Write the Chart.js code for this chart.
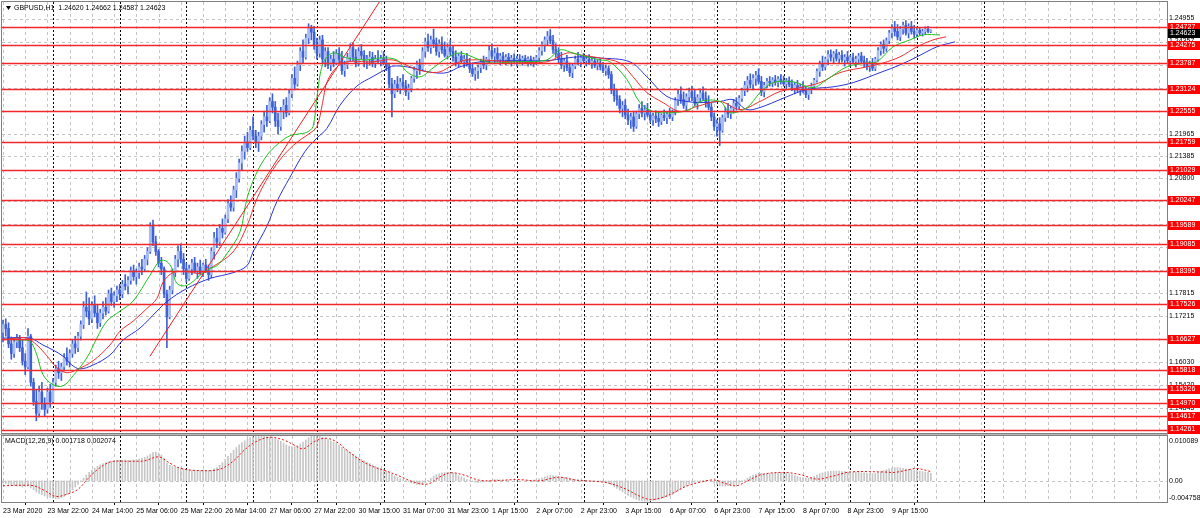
<!DOCTYPE html>
<html>
<head>
<meta charset="utf-8">
<title>GBPUSD,H1</title>
<script src="https://cdn.jsdelivr.net/npm/chart.js@4.4.1/dist/chart.umd.min.js"></script>
<style>
  html,body{margin:0;padding:0;background:#fff}
  #wrap{position:relative;width:1200px;height:518px;overflow:hidden;background:#fff}
  #wrap canvas{position:absolute;left:0}
  #c-main{top:0}
  #c-macd{top:434px}
</style>
</head>
<body>
<div id="wrap">
  <canvas id="c-main" width="1200" height="434"></canvas>
  <canvas id="c-macd" width="1200" height="84"></canvas>
</div>
<script>
// GBPUSD H1 — candles, Alligator, MACD(12,26,9)

// ── data ──
const symbolName = 'GBPUSD,H1';

// one row per hourly bar: open, high, low, close
const bars = [
[1.1680,1.1712,1.1655,1.1700],[1.1700,1.1715,1.1670,1.1690],[1.1690,1.1705,1.1640,1.1650],[1.1650,1.1668,1.1610,1.1625],
[1.1625,1.1660,1.1615,1.1655],[1.1655,1.1675,1.1640,1.1665],[1.1665,1.1672,1.1630,1.1640],[1.1640,1.1660,1.1595,1.1605],
[1.1605,1.1625,1.1570,1.1590],[1.1590,1.1690,1.1585,1.1670],[1.1670,1.1675,1.1540,1.1550],[1.1550,1.1560,1.1490,1.1500],
[1.1500,1.1530,1.1450,1.1470],[1.1470,1.1540,1.1460,1.1525],[1.1525,1.1550,1.1480,1.1495],[1.1495,1.1510,1.1462,1.1480],
[1.1480,1.1535,1.1470,1.1525],[1.1525,1.1545,1.1485,1.1500],[1.1500,1.1560,1.1495,1.1550],[1.1550,1.1595,1.1540,1.1585],
[1.1585,1.1605,1.1560,1.1575],[1.1575,1.1600,1.1555,1.1590],[1.1590,1.1625,1.1580,1.1615],[1.1615,1.1640,1.1595,1.1605],
[1.1605,1.1635,1.1590,1.1625],[1.1625,1.1660,1.1615,1.1650],[1.1650,1.1670,1.1625,1.1640],[1.1640,1.1680,1.1630,1.1670],
[1.1670,1.1710,1.1660,1.1700],[1.1700,1.1760,1.1690,1.1745],[1.1745,1.1785,1.1720,1.1735],[1.1735,1.1770,1.1700,1.1715],
[1.1715,1.1760,1.1705,1.1750],[1.1750,1.1775,1.1720,1.1730],[1.1730,1.1750,1.1690,1.1705],[1.1705,1.1740,1.1695,1.1730],
[1.1730,1.1760,1.1715,1.1745],[1.1745,1.1770,1.1725,1.1735],[1.1735,1.1790,1.1730,1.1780],[1.1780,1.1795,1.1750,1.1760],
[1.1760,1.1785,1.1745,1.1775],[1.1775,1.1800,1.1760,1.1790],[1.1790,1.1805,1.1765,1.1780],[1.1780,1.1815,1.1770,1.1805],
[1.1805,1.1830,1.1790,1.1800],[1.1800,1.1825,1.1780,1.1815],[1.1815,1.1850,1.1805,1.1840],[1.1840,1.1855,1.1815,1.1825],
[1.1825,1.1845,1.1805,1.1835],[1.1835,1.1860,1.1820,1.1850],[1.1850,1.1870,1.1830,1.1845],[1.1845,1.1880,1.1840,1.1870],
[1.1870,1.1900,1.1855,1.1890],[1.1890,1.1965,1.1885,1.1955],[1.1955,1.1972,1.1905,1.1915],[1.1915,1.1930,1.1880,1.1890],
[1.1890,1.1895,1.1850,1.1860],[1.1860,1.1875,1.1830,1.1845],[1.1845,1.1850,1.1770,1.1780],[1.1780,1.1790,1.1640,1.1720],
[1.1720,1.1800,1.1715,1.1790],[1.1790,1.1845,1.1780,1.1835],[1.1835,1.1880,1.1825,1.1870],[1.1870,1.1905,1.1850,1.1890],
[1.1890,1.1910,1.1860,1.1870],[1.1870,1.1885,1.1830,1.1845],[1.1845,1.1860,1.1810,1.1820],[1.1820,1.1855,1.1815,1.1845],
[1.1845,1.1870,1.1830,1.1860],[1.1860,1.1875,1.1835,1.1840],[1.1840,1.1860,1.1820,1.1850],[1.1850,1.1868,1.1830,1.1835],
[1.1835,1.1860,1.1825,1.1855],[1.1855,1.1870,1.1835,1.1840],[1.1840,1.1855,1.1815,1.1830],[1.1830,1.1900,1.1822,1.1890],
[1.1890,1.1940,1.1870,1.1925],[1.1925,1.1950,1.1900,1.1915],[1.1915,1.1960,1.1905,1.1950],[1.1950,1.1975,1.1925,1.1940],
[1.1940,1.1985,1.1935,1.1975],[1.1975,1.2025,1.1965,1.2015],[1.2015,1.2035,1.1995,1.2005],[1.2005,1.2060,1.1995,1.2050],
[1.2050,1.2095,1.2030,1.2080],[1.2080,1.2130,1.2070,1.2120],[1.2120,1.2165,1.2100,1.2150],[1.2150,1.2190,1.2130,1.2175],
[1.2175,1.2200,1.2150,1.2160],[1.2160,1.2215,1.2155,1.2205],[1.2205,1.2240,1.2180,1.2190],[1.2190,1.2205,1.2160,1.2175],
[1.2175,1.2200,1.2150,1.2190],[1.2190,1.2230,1.2180,1.2220],[1.2220,1.2255,1.2200,1.2240],[1.2240,1.2270,1.2215,1.2230],
[1.2230,1.2290,1.2225,1.2280],[1.2280,1.2300,1.2250,1.2265],[1.2265,1.2280,1.2215,1.2230],[1.2230,1.2250,1.2195,1.2215],
[1.2215,1.2265,1.2205,1.2255],[1.2255,1.2285,1.2235,1.2270],[1.2270,1.2290,1.2240,1.2250],[1.2250,1.2310,1.2245,1.2300],
[1.2300,1.2350,1.2290,1.2340],[1.2340,1.2370,1.2310,1.2325],[1.2325,1.2385,1.2320,1.2375],[1.2375,1.2420,1.2360,1.2410],
[1.2410,1.2440,1.2380,1.2395],[1.2395,1.2455,1.2390,1.2445],[1.2445,1.2482,1.2430,1.2470],[1.2470,1.2478,1.2440,1.2460],
[1.2460,1.2475,1.2415,1.2425],[1.2425,1.2445,1.2390,1.2405],[1.2405,1.2450,1.2395,1.2440],[1.2440,1.2452,1.2380,1.2390],
[1.2390,1.2420,1.2370,1.2410],[1.2410,1.2420,1.2365,1.2375],[1.2375,1.2400,1.2360,1.2390],[1.2390,1.2410,1.2370,1.2380],
[1.2380,1.2415,1.2375,1.2405],[1.2405,1.2420,1.2380,1.2390],[1.2390,1.2410,1.2350,1.2360],[1.2360,1.2385,1.2345,1.2375],
[1.2375,1.2405,1.2365,1.2395],[1.2395,1.2430,1.2385,1.2420],[1.2420,1.2432,1.2385,1.2395],[1.2395,1.2415,1.2370,1.2380],
[1.2380,1.2420,1.2372,1.2410],[1.2410,1.2428,1.2390,1.2400],[1.2400,1.2412,1.2370,1.2385],[1.2385,1.2400,1.2365,1.2390],
[1.2390,1.2410,1.2375,1.2395],[1.2395,1.2408,1.2370,1.2380],[1.2380,1.2400,1.2368,1.2390],[1.2390,1.2412,1.2378,1.2385],
[1.2385,1.2400,1.2372,1.2392],[1.2392,1.2410,1.2375,1.2380],[1.2380,1.2398,1.2360,1.2370],[1.2370,1.2380,1.2315,1.2325],
[1.2325,1.2340,1.2240,1.2300],[1.2300,1.2335,1.2290,1.2325],[1.2325,1.2345,1.2305,1.2315],[1.2315,1.2340,1.2300,1.2330],
[1.2330,1.2350,1.2310,1.2320],[1.2320,1.2335,1.2295,1.2305],[1.2305,1.2325,1.2285,1.2315],[1.2315,1.2345,1.2305,1.2340],
[1.2340,1.2370,1.2330,1.2360],[1.2360,1.2385,1.2340,1.2375],[1.2375,1.2390,1.2350,1.2365],[1.2365,1.2420,1.2360,1.2410],
[1.2410,1.2445,1.2395,1.2435],[1.2435,1.2455,1.2410,1.2420],[1.2420,1.2450,1.2405,1.2440],[1.2440,1.2468,1.2420,1.2430],
[1.2430,1.2445,1.2400,1.2410],[1.2410,1.2440,1.2395,1.2430],[1.2430,1.2448,1.2405,1.2415],[1.2415,1.2435,1.2395,1.2400],
[1.2400,1.2430,1.2390,1.2420],[1.2420,1.2440,1.2400,1.2410],[1.2410,1.2425,1.2385,1.2395],[1.2395,1.2412,1.2372,1.2380],
[1.2380,1.2405,1.2370,1.2398],[1.2398,1.2410,1.2378,1.2385],[1.2385,1.2400,1.2368,1.2390],[1.2390,1.2405,1.2372,1.2378],
[1.2378,1.2392,1.2355,1.2365],[1.2365,1.2380,1.2345,1.2352],[1.2352,1.2368,1.2335,1.2360],[1.2360,1.2375,1.2340,1.2368],
[1.2368,1.2390,1.2355,1.2382],[1.2382,1.2398,1.2365,1.2375],[1.2375,1.2395,1.2362,1.2390],[1.2390,1.2425,1.2380,1.2412],
[1.2412,1.2430,1.2390,1.2398],[1.2398,1.2418,1.2378,1.2405],[1.2405,1.2420,1.2382,1.2390],[1.2390,1.2405,1.2375,1.2398],
[1.2398,1.2408,1.2380,1.2388],[1.2388,1.2402,1.2375,1.2395],[1.2395,1.2405,1.2380,1.2385],[1.2385,1.2400,1.2372,1.2392],
[1.2392,1.2404,1.2378,1.2384],[1.2384,1.2398,1.2372,1.2390],[1.2390,1.2402,1.2378,1.2385],[1.2385,1.2398,1.2374,1.2392],
[1.2392,1.2400,1.2378,1.2384],[1.2384,1.2396,1.2372,1.2390],[1.2390,1.2398,1.2375,1.2382],[1.2382,1.2395,1.2370,1.2388],
[1.2388,1.2400,1.2376,1.2394],[1.2394,1.2420,1.2385,1.2412],[1.2412,1.2435,1.2400,1.2428],[1.2428,1.2448,1.2410,1.2440],
[1.2440,1.2462,1.2425,1.2450],[1.2450,1.2467,1.2430,1.2438],[1.2438,1.2452,1.2405,1.2415],[1.2415,1.2430,1.2395,1.2405],
[1.2405,1.2420,1.2380,1.2390],[1.2390,1.2408,1.2365,1.2375],[1.2375,1.2392,1.2358,1.2385],[1.2385,1.2400,1.2360,1.2368],
[1.2368,1.2380,1.2345,1.2355],[1.2355,1.2378,1.2342,1.2372],[1.2372,1.2398,1.2365,1.2390],[1.2390,1.2408,1.2375,1.2382],
[1.2382,1.2400,1.2370,1.2394],[1.2394,1.2405,1.2378,1.2386],[1.2386,1.2398,1.2372,1.2390],[1.2390,1.2402,1.2376,1.2380],
[1.2380,1.2392,1.2366,1.2385],[1.2385,1.2394,1.2368,1.2374],[1.2374,1.2388,1.2362,1.2380],[1.2380,1.2390,1.2362,1.2370],
[1.2370,1.2382,1.2355,1.2360],[1.2360,1.2375,1.2348,1.2365],[1.2365,1.2372,1.2340,1.2350],[1.2350,1.2358,1.2300,1.2310],
[1.2310,1.2325,1.2280,1.2295],[1.2295,1.2310,1.2270,1.2285],[1.2285,1.2295,1.2250,1.2262],[1.2262,1.2280,1.2240,1.2270],
[1.2270,1.2285,1.2235,1.2245],[1.2245,1.2260,1.2220,1.2232],[1.2232,1.2250,1.2210,1.2240],[1.2240,1.2255,1.2202,1.2215],
[1.2215,1.2255,1.2210,1.2248],[1.2248,1.2272,1.2235,1.2262],[1.2262,1.2280,1.2240,1.2250],[1.2250,1.2270,1.2232,1.2258],
[1.2258,1.2275,1.2240,1.2245],[1.2245,1.2258,1.2225,1.2232],[1.2232,1.2250,1.2218,1.2242],[1.2242,1.2256,1.2225,1.2236],
[1.2236,1.2250,1.2215,1.2228],[1.2228,1.2248,1.2220,1.2244],[1.2244,1.2258,1.2230,1.2238],[1.2238,1.2252,1.2222,1.2246],
[1.2246,1.2262,1.2235,1.2240],[1.2240,1.2258,1.2230,1.2252],[1.2252,1.2290,1.2245,1.2282],[1.2282,1.2310,1.2270,1.2298],
[1.2298,1.2318,1.2275,1.2285],[1.2285,1.2305,1.2262,1.2270],[1.2270,1.2300,1.2258,1.2292],[1.2292,1.2315,1.2280,1.2305],
[1.2305,1.2320,1.2282,1.2290],[1.2290,1.2310,1.2268,1.2275],[1.2275,1.2298,1.2260,1.2290],[1.2290,1.2312,1.2278,1.2302],
[1.2302,1.2318,1.2282,1.2288],[1.2288,1.2305,1.2265,1.2278],[1.2278,1.2295,1.2258,1.2265],[1.2265,1.2275,1.2230,1.2240],
[1.2240,1.2250,1.2205,1.2215],[1.2215,1.2232,1.2190,1.2222],[1.2222,1.2238,1.2165,1.2205],[1.2205,1.2245,1.2200,1.2238],
[1.2238,1.2265,1.2228,1.2255],[1.2255,1.2275,1.2238,1.2248],[1.2248,1.2268,1.2235,1.2262],[1.2262,1.2285,1.2250,1.2275],
[1.2275,1.2290,1.2258,1.2268],[1.2268,1.2295,1.2260,1.2288],[1.2288,1.2315,1.2280,1.2308],[1.2308,1.2332,1.2295,1.2322],
[1.2322,1.2345,1.2305,1.2335],[1.2335,1.2352,1.2315,1.2325],[1.2325,1.2350,1.2310,1.2340],[1.2340,1.2358,1.2322,1.2348],
[1.2348,1.2365,1.2325,1.2332],[1.2332,1.2345,1.2295,1.2305],[1.2305,1.2330,1.2292,1.2322],[1.2322,1.2340,1.2315,1.2332],
[1.2332,1.2345,1.2320,1.2328],[1.2328,1.2342,1.2318,1.2336],[1.2336,1.2348,1.2322,1.2330],[1.2330,1.2345,1.2318,1.2338],
[1.2338,1.2350,1.2325,1.2332],[1.2332,1.2346,1.2320,1.2326],[1.2326,1.2340,1.2312,1.2334],[1.2334,1.2344,1.2318,1.2324],
[1.2324,1.2336,1.2308,1.2315],[1.2315,1.2330,1.2300,1.2322],[1.2322,1.2335,1.2305,1.2310],[1.2310,1.2325,1.2296,1.2318],
[1.2318,1.2332,1.2302,1.2308],[1.2308,1.2320,1.2290,1.2298],[1.2298,1.2315,1.2285,1.2310],[1.2310,1.2328,1.2300,1.2320],
[1.2320,1.2340,1.2312,1.2335],[1.2335,1.2365,1.2330,1.2358],[1.2358,1.2385,1.2345,1.2378],[1.2378,1.2398,1.2360,1.2370],
[1.2370,1.2395,1.2362,1.2390],[1.2390,1.2412,1.2375,1.2402],[1.2402,1.2414,1.2385,1.2395],[1.2395,1.2410,1.2380,1.2404],
[1.2404,1.2415,1.2385,1.2392],[1.2392,1.2408,1.2378,1.2400],[1.2400,1.2412,1.2382,1.2388],[1.2388,1.2402,1.2372,1.2395],
[1.2395,1.2410,1.2380,1.2386],[1.2386,1.2400,1.2372,1.2394],[1.2394,1.2406,1.2380,1.2384],[1.2384,1.2398,1.2370,1.2390],
[1.2390,1.2405,1.2378,1.2398],[1.2398,1.2408,1.2380,1.2385],[1.2385,1.2398,1.2370,1.2378],[1.2378,1.2392,1.2362,1.2370],
[1.2370,1.2385,1.2358,1.2380],[1.2380,1.2392,1.2360,1.2366],[1.2366,1.2395,1.2360,1.2390],[1.2390,1.2420,1.2385,1.2412],
[1.2412,1.2435,1.2400,1.2428],[1.2428,1.2440,1.2405,1.2418],[1.2418,1.2445,1.2410,1.2438],[1.2438,1.2465,1.2430,1.2458],
[1.2458,1.2480,1.2445,1.2470],[1.2470,1.2488,1.2450,1.2462],[1.2462,1.2480,1.2440,1.2448],[1.2448,1.2475,1.2438,1.2468],
[1.2468,1.2486,1.2455,1.2478],[1.2478,1.2490,1.2452,1.2458],[1.2458,1.2482,1.2445,1.2475],[1.2475,1.2488,1.2455,1.2462],
[1.2462,1.2478,1.2445,1.2455],[1.2455,1.2470,1.2448,1.2465],[1.2465,1.2472,1.2452,1.2458],[1.2458,1.2468,1.2450,1.2462],
[1.2462,1.2474,1.2455,1.2468],[1.2468,1.2475,1.2458,1.2462],[1.24620,1.24662,1.24587,1.24623]
];

// Alligator lines as [bar, price]
const jawPts = [
[0,1.1665],[9.7,1.1665],[14.4,1.1647],[18,1.1634],[21.6,1.1618],[24.8,1.1595],[27.7,1.1585],[32.4,1.1595],[38.5,1.1621],
[43.2,1.1660],[49.3,1.1691],[55.4,1.1735],[59,1.1760],[66.2,1.1794],[74.5,1.1820],[82.8,1.1835],[87.8,1.1853],[90,1.1889],
[95,1.1956],[98.6,1.2020],[103.3,1.2083],[108.7,1.2150],[113,1.2185],[116.6,1.2210],[121.3,1.2270],[127.4,1.2320],
[133.2,1.2345],[138.2,1.2365],[140.4,1.2372],[145.4,1.2370],[150.1,1.2362],[154.8,1.2355],[159.8,1.2355],[164.5,1.2370],
[171.7,1.2383],[183.6,1.2386],[195.8,1.2386],[203,1.2393],[207.7,1.2396],[214.9,1.2393],[225.7,1.2383],[231.8,1.2344],
[239,1.2293],[246.2,1.2280],[250.9,1.2277],[258.1,1.2280],[262.8,1.2285],[267.8,1.2259],[273.6,1.2267],[279.7,1.2285],
[289.4,1.2311],[298.8,1.2318],[306,1.2329],[315.7,1.2355],[322.9,1.2375],[329,1.2396],[336.2,1.2422],[342.7,1.2435]
];
const teethPts = [
[0,1.1660],[5,1.1665],[8.6,1.1665],[12.2,1.1647],[15.8,1.1619],[19.4,1.1588],[23,1.1575],[26.6,1.1583],[32.4,1.1606],
[38.5,1.1647],[42.1,1.1683],[46.8,1.1709],[51.8,1.1742],[55.4,1.1768],[57.6,1.1810],[61.2,1.1835],[66,1.1838],[70.9,1.1833],
[74.5,1.1846],[82.8,1.1889],[87.8,1.1956],[91.4,1.2027],[96,1.2090],[101,1.2140],[106,1.2175],[110,1.2195],[113,1.2215],
[115,1.2275],[117,1.2337],[122.4,1.2380],[133.2,1.2383],[140.4,1.2388],[147.6,1.2367],[152.6,1.2357],[157.3,1.2357],
[162,1.2375],[167,1.2388],[183.6,1.2383],[195.8,1.2383],[203,1.2406],[207.7,1.2401],[214.9,1.2393],[222.1,1.2380],
[226.8,1.2344],[231.8,1.2303],[237.6,1.2277],[243.7,1.2254],[249.8,1.2267],[258.1,1.2280],[265.3,1.2259],[272.5,1.2280],
[279.7,1.2306],[286.9,1.2316],[294.1,1.2329],[301.3,1.2355],[311,1.2370],[316.8,1.2380],[322.9,1.2396],[329,1.2422],
[334.8,1.2440],[339.5,1.2448]
];
const lipsPts = [
[0,1.1662],[6.1,1.1660],[9.7,1.1657],[12.2,1.1621],[14.4,1.1570],[18,1.1544],[21.6,1.1541],[25.2,1.1567],[30.2,1.1614],
[33.8,1.1665],[37.4,1.1709],[42.1,1.1735],[46.8,1.1761],[52.9,1.1828],[56.5,1.1866],[59,1.1864],[60.8,1.1846],[62.6,1.1807],
[66.2,1.1802],[70.9,1.1828],[74.5,1.1846],[77,1.1853],[80.6,1.1884],[85.3,1.1941],[87.8,1.2027],[91,1.2090],[95,1.2140],
[99,1.2170],[103,1.2190],[106,1.2195],[109.4,1.2200],[111.6,1.2215],[113,1.2290],[115.2,1.2380],[118.8,1.2406],
[123.8,1.2393],[131,1.2388],[135.7,1.2393],[141.8,1.2388],[145.4,1.2357],[150.1,1.2344],[154.8,1.2367],[159.8,1.2393],
[164.5,1.2406],[171.7,1.2388],[176.4,1.2380],[183.6,1.2383],[195.8,1.2388],[200.5,1.2414],[205.2,1.2406],[210.2,1.2396],
[214.9,1.2388],[218.5,1.2383],[224.6,1.2337],[229.3,1.2277],[234,1.2254],[241.2,1.2251],[247.3,1.2259],[250.9,1.2280],
[258.1,1.2280],[261.7,1.2251],[267.8,1.2264],[272.5,1.2303],[277.2,1.2329],[284.4,1.2331],[291.6,1.2316],[296.6,1.2337],
[303.8,1.2370],[311,1.2380],[314.6,1.2383],[320.4,1.2422],[326.5,1.2440],[331.2,1.2453],[337.3,1.2453]
];

// hand-drawn trend line, [bar, price] at both ends
const trendPts = [[52.9,1.1618],[135.7,1.2541]];

// horizontal levels drawn on the chart
const levels = [1.24727,1.24275,1.23787,1.23124,1.22555,1.21759,1.21029,1.20247,1.19589,1.19085,
                1.18395,1.17526,1.16627,1.15818,1.15326,1.14970,1.14617,1.14261];

// price axis ticks
const priceTicks = [1.24955,1.24357,1.23759,1.23161,1.22563,1.21965,1.21385,1.20800,1.20203,1.19606,
                    1.19009,1.18412,1.17815,1.17215,1.16623,1.16030,1.15420,1.14845];

// MACD main (histogram), one value per bar
const macdHist = [
-0.0005,-0.0006,-0.0008,-0.0010,-0.0011,-0.0012,-0.0012,-0.0014,-0.0013,-0.0012,
-0.0016,-0.0020,-0.0025,-0.0028,-0.0031,-0.0034,-0.0036,-0.0038,-0.0039,-0.0040,
-0.0040,-0.0038,-0.0035,-0.0031,-0.0026,-0.0020,-0.0014,-0.0008,-0.0001,0.0006,
0.0013,0.0019,0.0024,0.0029,0.0033,0.0036,0.0039,0.0041,0.0043,0.0044,
0.0045,0.0046,0.0046,0.0047,0.0047,0.0046,0.0046,0.0047,0.0048,0.0049,
0.0051,0.0053,0.0056,0.0060,0.0064,0.0065,0.0063,0.0058,0.0050,0.0040,
0.0035,0.0032,0.0031,0.0030,0.0029,0.0027,0.0025,0.0024,0.0024,0.0024,
0.0023,0.0023,0.0024,0.0024,0.0023,0.0024,0.0027,0.0030,0.0035,0.0041,
0.0048,0.0055,0.0062,0.0069,0.0075,0.0081,0.0086,0.0090,0.0094,0.0097,
0.0099,0.0100,0.0101,0.0101,0.0100,0.0099,0.0098,0.0097,0.0095,0.0092,
0.0089,0.0085,0.0081,0.0078,0.0077,0.0077,0.0079,0.0083,0.0087,0.0092,
0.0097,0.0100,0.0101,0.0101,0.0100,0.0098,0.0096,0.0093,0.0090,0.0087,
0.0084,0.0080,0.0076,0.0072,0.0068,0.0064,0.0060,0.0056,0.0052,0.0048,
0.0045,0.0042,0.0039,0.0036,0.0033,0.0030,0.0028,0.0026,0.0023,0.0020,
0.0015,0.0011,0.0008,0.0005,0.0003,0.0001,-0.0002,-0.0004,-0.0006,-0.0008,
-0.0009,-0.0008,-0.0004,0.0001,0.0006,0.0011,0.0014,0.0016,0.0018,0.0019,
0.0019,0.0018,0.0017,0.0015,0.0012,0.0009,0.0006,0.0003,0.0001,-0.0001,
-0.0003,-0.0004,-0.0003,-0.0002,-0.0001,0.0001,0.0002,0.0003,0.0003,0.0002,
0.0002,0.0001,0.0001,0.0000,0.0000,-0.0001,-0.0001,0.0000,0.0000,0.0001,
0.0001,0.0002,0.0003,0.0005,0.0007,0.0009,0.0011,0.0012,0.0012,0.0011,
0.0010,0.0009,0.0008,0.0007,0.0005,0.0004,0.0003,0.0003,0.0002,0.0001,
0.0001,0.0000,0.0000,-0.0001,-0.0001,-0.0002,-0.0003,-0.0004,-0.0006,-0.0009,
-0.0013,-0.0017,-0.0021,-0.0025,-0.0029,-0.0033,-0.0036,-0.0039,-0.0042,-0.0044,
-0.0045,-0.0046,-0.0046,-0.0045,-0.0044,-0.0043,-0.0042,-0.0040,-0.0038,-0.0036,
-0.0034,-0.0031,-0.0027,-0.0023,-0.0019,-0.0015,-0.0012,-0.0008,-0.0005,-0.0003,
-0.0001,0.0000,0.0001,0.0001,0.0000,-0.0002,-0.0005,-0.0008,-0.0011,-0.0012,
-0.0012,-0.0011,-0.0010,-0.0009,-0.0007,-0.0005,-0.0002,0.0002,0.0006,0.0010,
0.0013,0.0015,0.0017,0.0017,0.0016,0.0016,0.0016,0.0017,0.0017,0.0018,
0.0018,0.0017,0.0017,0.0016,0.0014,0.0012,0.0010,0.0008,0.0007,0.0006,
0.0006,0.0008,0.0010,0.0013,0.0016,0.0018,0.0020,0.0021,0.0022,0.0022,
0.0022,0.0022,0.0021,0.0021,0.0020,0.0020,0.0020,0.0019,0.0019,0.0018,
0.0018,0.0017,0.0016,0.0016,0.0017,0.0019,0.0021,0.0023,0.0025,0.0027,
0.0029,0.0030,0.0030,0.0029,0.0028,0.0027,0.0026,0.0025,0.0024,0.0023,
0.0022,0.0021,0.0020,0.0019,0.001718
];

// MACD signal line, [bar, value]
const signalPts = [
[0,-0.0011],[6,-0.0010],[11,-0.0011],[15,-0.0022],[19,-0.0035],[23,-0.0030],[27,-0.0019],[31,0.0008],[35,0.0030],
[39,0.0043],[46,0.0044],[51,0.0045],[56,0.0054],[60,0.0040],[64,0.0028],[71,0.0023],[78,0.0026],[83,0.0045],[87,0.0070],
[91,0.0088],[96,0.0098],[101,0.0092],[105,0.0080],[108,0.0072],[112,0.0088],[116,0.0096],[120,0.0088],[124,0.0068],
[129,0.0045],[134,0.0030],[138,0.0022],[143,0.0010],[148,-0.0003],[153,-0.0007],[157,0.0008],[161,0.0018],[166,0.0013],
[171,0.0002],[176,0.0000],[185,0.0003],[193,0.0000],[200,0.0008],[207,0.0001],[213,-0.0001],[218,-0.0005],[224,-0.0018],
[229,-0.0034],[233,-0.0042],[237,-0.0038],[241,-0.0028],[246,-0.0012],[251,-0.0003],[256,0.0002],[260,-0.0006],
[264,-0.0011],[268,0.0000],[273,0.0014],[281,0.0019],[287,0.0014],[293,0.0004],[299,0.0011],[305,0.0020],[317,0.0020],
[321,0.0019],[326,0.0025],[329,0.0028],[334,0.002074]
];
const macdTicks = [0.010089, 0, -0.004758];

// time axis: bar index of each label and its text
const timeTickBars = [0,16,32,48,64,80,96,112,128,144,160,176,192,208,224,240,256,272,288,304,320];
const timeLabels = ['23 Mar 2020','23 Mar 22:00','24 Mar 14:00','25 Mar 06:00','25 Mar 22:00','26 Mar 14:00',
  '27 Mar 06:00','27 Mar 22:00','30 Mar 15:00','31 Mar 07:00','31 Mar 23:00','1 Apr 15:00','2 Apr 07:00',
  '2 Apr 23:00','3 Apr 15:00','6 Apr 07:00','6 Apr 23:00','7 Apr 15:00','8 Apr 07:00','8 Apr 23:00','9 Apr 15:00'];
// first bar of each day (period separators)
const daySeps = [18,42,66,90,113,137,161,185,209,233,257,281,305,329,353];

// ── view ──
const X_MIN = -0.36, X_MAX = 419.01;
const P_MIN = 1.14184, P_MAX = 1.25385;
const M_MIN = -0.004758, M_MAX = 0.010089;
const GRID_STEP = 8;
const FONT = '7px "Liberation Sans", Arial, sans-serif';
const C_WICK = '#3f61d6', C_BULL = '#a9bcf0', C_BEAR = '#3f61d6';

Chart.defaults.font.family = '"Liberation Sans", Arial, sans-serif';
Chart.defaults.font.size = 7;
Chart.defaults.color = '#000';

const pairs = pts => pts.map(p => ({x: p[0], y: p[1]}));

function vline(ctx, x, y0, y1){ ctx.beginPath(); ctx.moveTo(x, y0); ctx.lineTo(x, y1); ctx.stroke(); }
function hline(ctx, y, x0, x1){ ctx.beginPath(); ctx.moveTo(x0, y); ctx.lineTo(x1, y); ctx.stroke(); }

function drawTimeGrid(ctx, a, x){
  ctx.lineWidth = 1;
  ctx.strokeStyle = '#c4c4c4'; ctx.setLineDash([3,3]);
  for(let i = 0; i <= X_MAX; i += GRID_STEP){
    if(daySeps.includes(i)) continue;
    vline(ctx, Math.round(x.getPixelForValue(i)) + 0.5, a.top, a.bottom);
  }
  ctx.strokeStyle = '#000'; ctx.setLineDash([2,2]);
  daySeps.forEach(i => vline(ctx, Math.round(x.getPixelForValue(i)) + 0.5, a.top, a.bottom));
  ctx.setLineDash([]);
}

const mainDecor = {
  id: 'mainDecor',
  beforeDatasetsDraw(chart){
    const {ctx, chartArea: a, scales: {x, y}} = chart;
    ctx.save();
    ctx.lineWidth = 1;
    ctx.strokeStyle = '#c4c4c4'; ctx.setLineDash([3,3]);
    priceTicks.forEach(v => hline(ctx, Math.round(y.getPixelForValue(v)) + 0.5, a.left, a.right));
    drawTimeGrid(ctx, a, x);
    ctx.restore();
  },
  afterDatasetsDraw(chart){
    const {ctx, chartArea: a, scales: {y}} = chart;
    ctx.save();
    ctx.strokeStyle = '#f02828'; ctx.lineWidth = 1.5;
    levels.forEach(v => hline(ctx, Math.round(y.getPixelForValue(v)) + 0.5, a.left, a.right));
    ctx.restore();
  },
  afterDraw(chart){
    const {ctx, chartArea: a, scales: {y}} = chart;
    ctx.save();
    ctx.font = FONT; ctx.textBaseline = 'middle';
    // level tags
    levels.forEach(v => {
      const py = Math.min(Math.round(y.getPixelForValue(v)), a.bottom - 4);
      ctx.fillStyle = '#ff0000';
      ctx.fillRect(a.right + 1, py - 4, 33, 9);
      ctx.fillStyle = '#fff';
      ctx.fillText(v.toFixed(5), a.right + 3, py + 0.5);
    });
    // current price tag
    const last = bars[bars.length - 1];
    const cy = Math.round(y.getPixelForValue(last[3])) + 2;
    ctx.fillStyle = '#000';
    ctx.fillRect(a.right + 1, cy - 4, 33, 9);
    ctx.fillStyle = '#fff';
    ctx.fillText(last[3].toFixed(5), a.right + 3, cy + 0.5);
    // frame
    ctx.strokeStyle = '#808080'; ctx.lineWidth = 1;
    ctx.strokeRect(a.left - 0.5, a.top - 0.5, a.right - a.left + 1, a.bottom - a.top + 1);
    // header
    ctx.fillStyle = '#000';
    ctx.beginPath(); ctx.moveTo(6, 6); ctx.lineTo(11, 6); ctx.lineTo(8.5, 10); ctx.closePath(); ctx.fill();
    ctx.fillText(symbolName + '  ' + last.map(v => v.toFixed(5)).join(' '), 14, 8.5);
    ctx.restore();
  }
};

const macdDecor = {
  id: 'macdDecor',
  beforeDatasetsDraw(chart){
    const {ctx, chartArea: a, scales: {x, y}} = chart;
    ctx.save();
    drawTimeGrid(ctx, a, x);
    ctx.strokeStyle = '#c4c4c4'; ctx.setLineDash([3,3]);
    hline(ctx, Math.round(y.getPixelForValue(0)) + 0.5, a.left, a.right);
    ctx.restore();
  },
  afterDraw(chart){
    const {ctx, chartArea: a, scales: {y}} = chart;
    ctx.save();
    ctx.strokeStyle = '#808080'; ctx.lineWidth = 1;
    ctx.strokeRect(a.left - 0.5, a.top - 0.5, a.right - a.left + 1, a.bottom - a.top + 1);
    ctx.strokeStyle = '#b8b8b8';
    hline(ctx, 0.5, 0, a.right + 1);
    ctx.font = FONT; ctx.fillStyle = '#000'; ctx.textBaseline = 'middle';
    const off = [5, 0, -4];
    macdTicks.forEach((v, i) => {
      const label = v === 0 ? '0.00' : v.toFixed(6);
      ctx.fillText(label, a.right + 2, y.getPixelForValue(v) + off[i]);
    });
    const lastSig = signalPts[signalPts.length - 1][1];
    ctx.fillText('MACD(12,26,9) ' + macdHist[macdHist.length - 1].toFixed(6) + ' ' + lastSig.toFixed(6), 5, a.top + 5.5);
    ctx.restore();
  }
};

new Chart(document.getElementById('c-main'), {
  type: 'bar',
  data: {
    datasets: [
      {type:'line', data: pairs(trendPts), borderColor:'#f02020', borderWidth:1, pointRadius:0, order:0},
      {type:'line', data: pairs(lipsPts), borderColor:'#1fc21f', borderWidth:1, pointRadius:0, tension:0.35, order:1},
      {type:'line', data: pairs(teethPts), borderColor:'#f03030', borderWidth:1, pointRadius:0, tension:0.35, order:2},
      {type:'line', data: pairs(jawPts), borderColor:'#2a36d8', borderWidth:1, pointRadius:0, tension:0.35, order:3},
      {data: bars.map((b, i) => ({x: i, y: [Math.min(b[0], b[3]), Math.max(b[0], b[3])]})),
       backgroundColor: bars.map(b => b[3] >= b[0] ? C_BULL : C_BEAR),
       barThickness: 2, minBarLength: 1, grouped: false, borderWidth: 0, order: 4},
      {data: bars.map((b, i) => ({x: i, y: [b[2], b[1]]})),
       backgroundColor: C_WICK, barThickness: 1, grouped: false, borderWidth: 0, order: 5}
    ]
  },
  options: {
    responsive: false, animation: false, events: [],
    layout: {padding: {left: 2, top: 2, right: 0, bottom: 1}},
    plugins: {legend: {display: false}, tooltip: {enabled: false}},
    scales: {
      x: {type: 'linear', display: false, min: X_MIN, max: X_MAX, offset: false},
      y: {position: 'right', min: P_MIN, max: P_MAX,
          afterFit: s => { s.width = 33; s.paddingTop = 0; s.paddingBottom = 0; },
          afterBuildTicks: s => { s.ticks = priceTicks.map(v => ({value: v})); },
          ticks: {autoSkip: false, padding: 2, color: '#000', callback: v => v.toFixed(5)},
          grid: {display: false, drawTicks: false}, border: {display: false}}
    }
  },
  plugins: [mainDecor]
});

new Chart(document.getElementById('c-macd'), {
  type: 'bar',
  data: {
    datasets: [
      {type:'line', data: pairs(signalPts), borderColor:'#f01010', borderWidth:1, borderDash:[2,2],
       pointRadius:0, tension:0.35, order:0},
      {data: macdHist.map((v, i) => ({x: i, y: v})), backgroundColor:'#c6c6c6',
       barThickness: 1, grouped: false, borderWidth: 0, order: 1}
    ]
  },
  options: {
    responsive: false, animation: false, events: [],
    layout: {padding: {left: 2, top: 2, right: 33, bottom: 0}},
    plugins: {legend: {display: false}, tooltip: {enabled: false}},
    scales: {
      x: {type: 'linear', min: X_MIN, max: X_MAX, offset: false,
          afterBuildTicks: s => { s.ticks = timeTickBars.map(v => ({value: v})); },
          afterFit: s => { s.height = 16; },
          ticks: {autoSkip: false, maxRotation: 0, minRotation: 0, align: 'start', padding: 2, color: '#000',
                  callback: (v, i) => timeLabels[i]},
          grid: {drawOnChartArea: false, drawTicks: true, tickLength: 3, color: '#000'},
          border: {display: false}},
      y: {display: false, min: M_MIN, max: M_MAX}
    }
  },
  plugins: [macdDecor]
});
</script>
</body>
</html>
